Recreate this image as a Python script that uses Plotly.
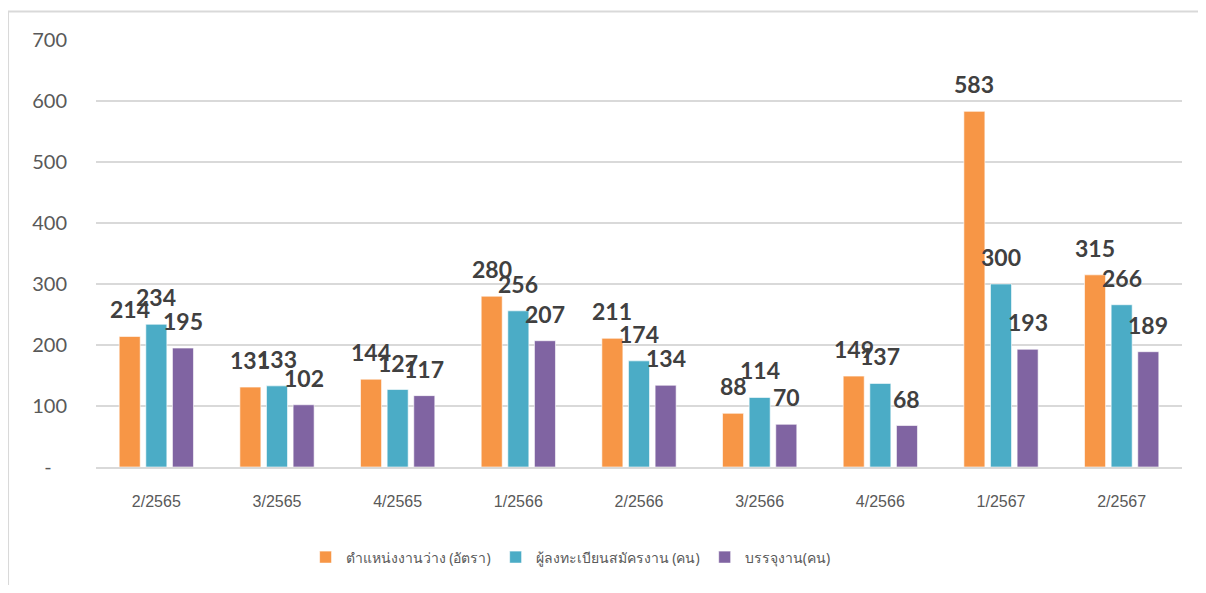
import plotly.graph_objects as go

# ข้อมูลรายไตรมาส
quarters = ["2/2565", "3/2565", "4/2565", "1/2566", "2/2566",
            "3/2566", "4/2566", "1/2567", "2/2567"]
vacancies = [214, 131, 144, 280, 211, 88, 149, 583, 315]
applicants = [234, 133, 127, 256, 174, 114, 137, 300, 266]
placed = [195, 102, 117, 207, 134, 70, 68, 193, 189]

series_names = ["ตำแหน่งงานว่าง (อัตรา)", "ผู้ลงทะเบียนสมัครงาน (คน)", "บรรจุงาน(คน)"]
series_colors = ["#F79646", "#4BACC6", "#8064A2"]
y_ticks = [0, 100, 200, 300, 400, 500, 600, 700]
y_ticktext = ["-\u00a0\u00a0\u00a0", "100", "200", "300", "400", "500", "600", "700"]

fig = go.Figure()
all_series = [vacancies, applicants, placed]

for name, vals, col in zip(series_names, all_series, series_colors):
    fig.add_trace(go.Bar(
        x=quarters, y=vals, name=name,
        marker=dict(color=col, line=dict(color="rgba(255,255,255,0.6)", width=1)),
        hoverinfo="x+y+name"
    ))

# ป้ายตัวเลขเหนือแท่ง
slot = 0.2208
anns = []
for k, vals in enumerate(all_series):
    for i, v in enumerate(vals):
        anns.append(dict(
            x=i + (k - 1) * slot, y=v, xref="x", yref="y",
            text=str(v), showarrow=False, yanchor="middle", yshift=27,
            font=dict(family="Lato, Carlito, sans-serif", size=23, color="#404040", weight="bold")
        ))

# กรอบของแผนภูมิ (ซ้าย / บน)  -- หน้าเว็บมีขอบ 8px จึงเลื่อนทุกอย่างตาม
shapes = [
    dict(type="line", xref="paper", yref="paper", x0=-0.081, x1=-0.081, y0=1.067, y1=-0.32,
         line=dict(color="#d9d9d9", width=2)),
    dict(type="line", xref="paper", yref="paper", x0=-0.082, x1=1.03, y0=1.067, y1=1.067,
         line=dict(color="#d9d9d9", width=2)),
]

fig.update_layout(
    width=1190, height=577,
    margin=dict(l=88, r=16, t=32, b=113),
    paper_bgcolor="white", plot_bgcolor="white",
    barmode="group", bargap=0.338, bargroupgap=0.21,
    annotations=anns, shapes=shapes,
    showlegend=True,
    legend=dict(orientation="h", x=0.437, xanchor="center", y=-0.212, yanchor="middle",
                font=dict(family="Noto Sans, sans-serif", size=14, color="#595959"),
                itemwidth=30, traceorder="normal"),
    font=dict(family="Liberation Sans, Arial, sans-serif", color="#595959"),
)

fig.update_xaxes(
    showgrid=False, showline=True, linecolor="#d9d9d9", linewidth=1.6,
    ticks="", ticklabelstandoff=19, automargin=False,
    tickfont=dict(family="Liberation Sans, Arial, sans-serif", size=16, color="#595959"),
)
fig.update_yaxes(
    range=[0, 700], tickvals=y_ticks, ticktext=y_ticktext,
    showgrid=True, gridcolor="#d9d9d9", gridwidth=1.6, automargin=False,
    zeroline=False, showline=False, ticks="", ticklabelstandoff=28,
    tickfont=dict(family="Lato, Carlito, sans-serif", size=20, color="#595959"),
)

fig.write_html("out.html")
